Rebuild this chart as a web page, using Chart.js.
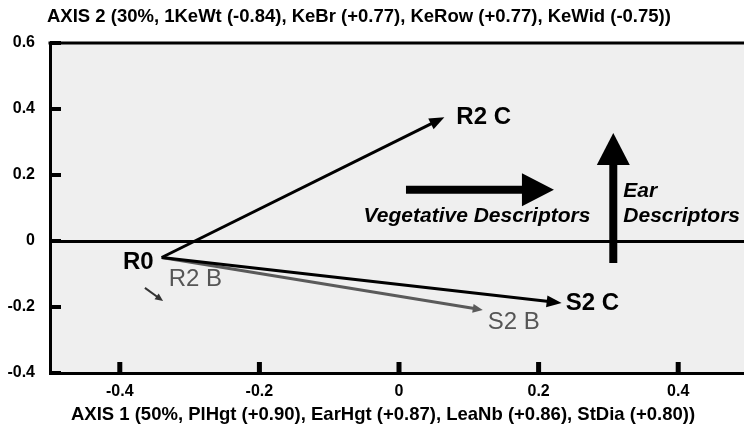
<!DOCTYPE html>
<html>
<head>
<meta charset="utf-8">
<script src="https://cdn.jsdelivr.net/npm/chart.js@4.4.0/dist/chart.umd.min.js"></script>
<style>
  html, body { margin: 0; padding: 0; background: #fff; overflow: hidden; }
  #wrap { width: 744px; height: 432px; overflow: hidden; }
</style>
</head>
<body>
<div id="wrap"><canvas id="biplot" width="750" height="432"></canvas></div>
<script>
// biplot values: every vector starts at R0
var origin = [-0.34, -0.05];
var vectorNames = ['R2 C', 'S2 C', 'S2 B'];
var vectorX = [0.065, 0.233, 0.12];
var vectorY = [0.375, -0.188, -0.209];

// small pointer arrow next to R2 B
var pointerX = [-0.364, -0.338];
var pointerY = [-0.142, -0.182];

// descriptor arrows
var vegX = [0.01, 0.222];
var vegY = [0.155, 0.155];
var earX = [0.307, 0.307];
var earY = [-0.067, 0.327];

var xTicks = [-0.4, -0.2, 0, 0.2, 0.4];
var xTickLabels = ['-0.4', '-0.2', '0', '0.2', '0.4'];
var yTicks = [-0.4, -0.2, 0, 0.2, 0.4, 0.6];
var yTickLabels = ['-0.4', '-0.2', '0', '0.2', '0.4', '0.6'];

var axis1Title = 'AXIS 1 (50%, PlHgt (+0.90), EarHgt (+0.87), LeaNb (+0.86), StDia (+0.80))';
var axis2Title = 'AXIS 2 (30%, 1KeWt (-0.84), KeBr (+0.77), KeRow (+0.77), KeWid (-0.75))';

var FONT = '"Liberation Sans", Arial, sans-serif';

// look of each vector
var vectorStyle = {
    'R2 C': { color: '#000', width: 3, head: [15, 12], label: { dx: 12, dy: 0, align: 'left', font: 'bold 24px', color: '#000' } },
    'S2 C': { color: '#000', width: 3, head: [15, 12], label: { dx: 4, dy: 0, align: 'left', font: 'bold 24px', color: '#000' } },
    'S2 B': { color: '#5a5a5a', width: 3, head: [10, 9], label: { dx: 5, dy: 12, align: 'left', font: '24px', color: '#555' } }
};

function pts(xs, ys) {
    return xs.map(function (v, i) { return { x: v, y: ys[i] }; });
}

var datasets = [];
vectorNames.forEach(function (name, i) {
    var st = vectorStyle[name];
    datasets.push({
        label: name,
        data: [{ x: origin[0], y: origin[1] }, { x: vectorX[i], y: vectorY[i] }],
        showLine: true,
        pointRadius: 0,
        borderColor: st.color,
        borderWidth: st.width,
        head: st.head,
        tag: st.label
    });
});
datasets.push({ label: 'pointer', data: pts(pointerX, pointerY), showLine: true, pointRadius: 0, borderColor: '#333', borderWidth: 2, head: [8, 7] });
datasets.push({ label: 'veg', data: pts(vegX, vegY), showLine: true, pointRadius: 0, borderColor: '#000', borderWidth: 8, head: [32, 33] });
datasets.push({ label: 'ear', data: pts(earX, earY), showLine: true, pointRadius: 0, borderColor: '#000', borderWidth: 8, head: [32, 33] });

// draws each line as shaft + filled triangle head
var arrowPlugin = {
    id: 'arrows',
    beforeDatasetDraw: function (chart, args) {
        var ds = chart.data.datasets[args.index];
        if (!ds.head) return;
        var el = args.meta.data;
        var a = el[0], b = el[el.length - 1];
        var ctx = chart.ctx;
        var dx = b.x - a.x, dy = b.y - a.y;
        var len = Math.sqrt(dx * dx + dy * dy);
        var ux = dx / len, uy = dy / len;
        var L = ds.head[0], W = ds.head[1] / 2;
        ctx.save();
        ctx.strokeStyle = ds.borderColor;
        ctx.lineWidth = ds.borderWidth;
        ctx.lineCap = 'butt';
        ctx.beginPath();
        ctx.moveTo(a.x, a.y);
        ctx.lineTo(b.x - ux * L * 0.7, b.y - uy * L * 0.7);
        ctx.stroke();
        ctx.fillStyle = ds.borderColor;
        ctx.beginPath();
        ctx.moveTo(b.x, b.y);
        ctx.lineTo(b.x - ux * L - uy * W, b.y - uy * L + ux * W);
        ctx.lineTo(b.x - ux * L + uy * W, b.y - uy * L - ux * W);
        ctx.closePath();
        ctx.fill();
        ctx.restore();
        return false;
    }
};

var backdrop = {
    id: 'backdrop',
    beforeDraw: function (chart) {
        var a = chart.chartArea, ctx = chart.ctx;
        ctx.save();
        ctx.fillStyle = '#efefef';
        ctx.fillRect(a.left, a.top, a.right - a.left, a.bottom - a.top);
        ctx.restore();
    }
};

var texts = {
    id: 'texts',
    afterDraw: function (chart) {
        var ctx = chart.ctx, a = chart.chartArea;
        var xs = chart.scales.x, ys = chart.scales.y;
        ctx.save();

        // top frame line and inward tick marks
        ctx.fillStyle = '#000';
        ctx.fillRect(a.left - 1.5, a.top - 1.5, a.right - a.left + 3, 3);
        xTicks.forEach(function (v) {
            ctx.fillRect(xs.getPixelForValue(v) - 2.5, a.bottom - 11, 5, 11);
        });
        yTicks.forEach(function (v) {
            ctx.fillRect(a.left, ys.getPixelForValue(v) - 2, 11, 4);
        });

        // vector labels
        ctx.textBaseline = 'middle';
        chart.data.datasets.forEach(function (ds, i) {
            if (!ds.tag) return;
            var tip = chart.getDatasetMeta(i).data[1];
            ctx.font = ds.tag.font + ' ' + FONT;
            ctx.fillStyle = ds.tag.color;
            ctx.textAlign = ds.tag.align;
            ctx.fillText(ds.label, tip.x + ds.tag.dx, tip.y + ds.tag.dy);
        });
        var ox = xs.getPixelForValue(origin[0]), oy = ys.getPixelForValue(origin[1]);
        ctx.font = 'bold 24px ' + FONT;
        ctx.fillStyle = '#000';
        ctx.textAlign = 'right';
        ctx.fillText('R0', ox - 8, oy + 5);
        ctx.font = '24px ' + FONT;
        ctx.fillStyle = '#555';
        ctx.textAlign = 'left';
        ctx.fillText('R2 B', ox + 7, oy + 22);

        // descriptor captions
        ctx.textBaseline = 'alphabetic';
        ctx.fillStyle = '#000';
        ctx.font = 'italic bold 21px ' + FONT;
        ctx.textAlign = 'center';
        var vy = ys.getPixelForValue(vegY[0]);
        ctx.fillText('Vegetative Descriptors', (xs.getPixelForValue(vegX[0]) + xs.getPixelForValue(vegX[1])) / 2 - 3, vy + 32);
        ctx.textAlign = 'left';
        var ex = xs.getPixelForValue(earX[0]);
        ctx.fillText('Ear', ex + 10, vy + 7);
        ctx.fillText('Descriptors', ex + 10, vy + 32);

        // axis titles
        ctx.font = 'bold 18.5px ' + FONT;
        ctx.textBaseline = 'middle';
        ctx.textAlign = 'left';
        ctx.fillText(axis2Title, 47, 17);
        ctx.textAlign = 'center';
        ctx.fillText(axis1Title, 383, 415);
        ctx.restore();
    }
};

var tickFont = { family: FONT, size: 16, weight: 'bold' };

new Chart(document.getElementById('biplot'), {
    type: 'scatter',
    data: { datasets: datasets },
    options: {
        responsive: false,
        animation: false,
        devicePixelRatio: 1,
        layout: { padding: { top: 43, right: 2, bottom: 0, left: 0 } },
        plugins: { legend: { display: false }, tooltip: { enabled: false } },
        scales: {
            x: {
                type: 'linear',
                min: -0.5,
                max: 0.5,
                afterBuildTicks: function (s) { s.ticks = xTicks.map(function (v) { return { value: v }; }); },
                afterFit: function (s) { s.height = 59; },
                grid: { display: false, drawTicks: false },
                border: { display: true, color: '#000', width: 3 },
                ticks: { padding: 9, color: '#000', font: tickFont, maxRotation: 0, callback: function (v, i) { return xTickLabels[i]; } }
            },
            y: {
                type: 'linear',
                min: -0.4,
                max: 0.6,
                afterBuildTicks: function (s) { s.ticks = yTicks.map(function (v) { return { value: v }; }); },
                afterFit: function (s) { s.width = 50; },
                grid: {
                    drawTicks: false,
                    lineWidth: 3,
                    color: function (c) { return c.tick && c.tick.value === 0 ? '#000' : 'rgba(0,0,0,0)'; }
                },
                border: { display: true, color: '#000', width: 3 },
                ticks: { padding: 15, color: '#000', font: tickFont, callback: function (v, i) { return yTickLabels[i]; } }
            }
        }
    },
    plugins: [backdrop, arrowPlugin, texts]
});
</script>
</body>
</html>
